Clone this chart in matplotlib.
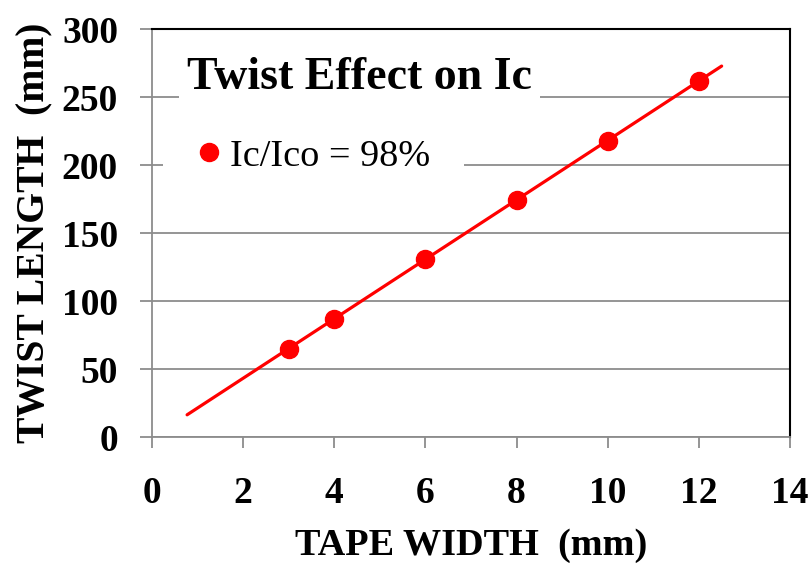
import numpy as np
import matplotlib
matplotlib.use("Agg")
import matplotlib.pyplot as plt

# Twist pitch versus tape width at Ic/Ico = 98 %
tape_width = [3, 4, 6, 8, 10, 12]
twist_length = [65, 87, 131, 174, 218, 262]
x_ticks = [0, 2, 4, 6, 8, 10, 12, 14]
y_ticks = [0, 50, 100, 150, 200, 250, 300]
series_label = "Ic/Ico = 98%"
title = "Twist Effect on Ic"

plt.rcParams['font.family'] = ['Liberation Serif', 'DejaVu Serif']

fig = plt.figure(figsize=(8.12, 5.68), dpi=100)
ax = fig.add_axes([0.1872, 0.2306, 0.9729 - 0.1872, 0.9489 - 0.2306])

grey = '#8c8c8c'
red = '#ff0000'

# linear trend fitted to the measured points
slope, intercept = np.polyfit(tape_width, twist_length, 1)
xt = np.array([0.77, 12.5])
ax.plot(xt, slope * xt + intercept, color=red, lw=2.3, zorder=3, solid_capstyle='round')
ax.plot(tape_width, twist_length, 'o', color=red, ms=13, zorder=4, label=series_label)

ax.set_xlim(0, 14)
ax.set_ylim(0, 300)
ax.set_xticks(x_ticks)
ax.set_yticks(y_ticks)
ax.yaxis.grid(True, color=grey, lw=1.3)
ax.set_axisbelow(True)

for s in ('left', 'bottom'):
    ax.spines[s].set_color(grey)
    ax.spines[s].set_linewidth(1.3)
for s in ('top', 'right'):
    ax.spines[s].set_color('black')
    ax.spines[s].set_linewidth(1.5)

ax.tick_params(axis='y', direction='out', length=8.5, width=1.3, color=grey, pad=16,
               labelsize=27)
ax.tick_params(axis='x', direction='out', length=8, width=1.3, color=grey, pad=20,
               labelsize=27)
for lab in ax.get_xticklabels() + ax.get_yticklabels():
    lab.set_fontweight('bold')

ax.set_xlabel("TAPE WIDTH  (mm)", fontsize=27.5, fontweight='bold', labelpad=12)
ax.set_ylabel("TWIST LENGTH  (mm)", fontsize=28.5, fontweight='bold', labelpad=6)

ax.text(0.055, 0.852, title, transform=ax.transAxes, fontsize=33, fontweight='bold',
        va='baseline', ha='left', zorder=5,
        bbox=dict(facecolor='white', edgecolor='none', pad=6))

leg = ax.legend(loc='center left', bbox_to_anchor=(0.017, 0.688), frameon=True,
                fontsize=27.5, handlelength=0.6, handletextpad=0.25, borderpad=0.9,
                markerscale=1.0, borderaxespad=0)
leg.get_frame().set_facecolor('white')
leg.get_frame().set_edgecolor('none')
leg.get_frame().set_alpha(1.0)

fig.savefig("out.png", dpi=100)
